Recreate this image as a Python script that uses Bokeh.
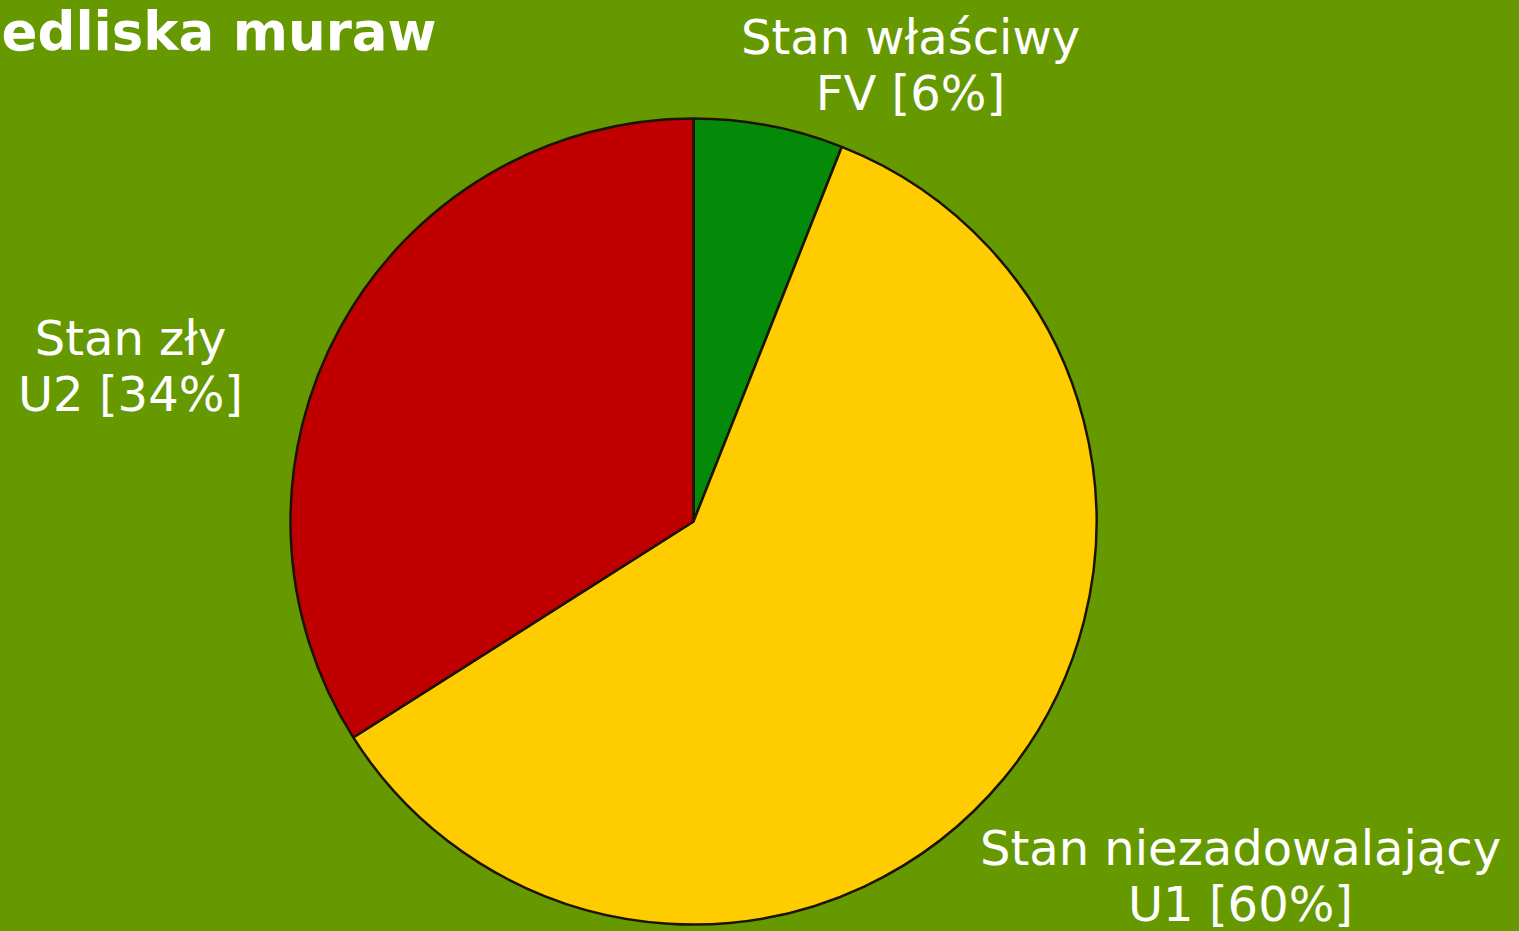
import math
from bokeh.plotting import figure
from bokeh.models import Range1d, ColumnDataSource
from bokeh.core.properties import value
from bokeh.embed import file_html
from bokeh.resources import INLINE

# ---- data ----
categories = ["Stan właściwy", "Stan niezadowalający", "Stan zły"]
codes = ["FV", "U1", "U2"]
shares = [6, 60, 34]
colors = ["#048A08", "#FFCC00", "#C00000"]
title_text = "edliska muraw"

BG = "#669900"
W, H = 1519, 931

p = figure(width=W, height=H, output_backend="svg", toolbar_location=None,
           x_range=Range1d(0, W), y_range=Range1d(0, H),
           min_border=0, background_fill_color=BG, border_fill_color=BG,
           outline_line_color=None)
p.axis.visible = False
p.grid.visible = False

cx, cy, r = 693, H - 521, 403

total = sum(shares)
starts, ends = [], []
a = math.pi / 2
for s in shares:
    starts.append(a)
    a -= 2 * math.pi * s / total
    ends.append(a)

src = ColumnDataSource(dict(start=starts, end=ends, color=colors))
p.wedge(x=cx, y=cy, radius=r, start_angle="start", end_angle="end",
        direction="clock", fill_color="color", line_color="#1a1400",
        line_width=2.5, source=src)

# label layout (screen baselines)
label_pos = {"FV": (910, 36), "U1": (1240, 847), "U2": (130, 337)}
lx, ly, lt = [], [], []
for c, cat, s in zip(codes, categories, shares):
    x, y = label_pos[c]
    lx += [x, x]
    ly += [H - y, H - (y + 56)]
    lt += [cat, f"{c} [{s}%]"]

p.text(x=lx, y=ly, text=lt, text_align="center", text_baseline="alphabetic",
       text_color="white", text_font=value("DejaVu Sans"),
       text_font_size="48px")

p.text(x=[1], y=[H - 31], text=[title_text], text_align="left",
       text_baseline="alphabetic", text_color="white",
       text_font=value("DejaVu Sans"), text_font_style="bold",
       text_font_size="53px")

html = file_html(p, INLINE)
html = html.replace("<head>", "<head><style>html,body{background:%s;}</style>" % BG, 1)
open("out.html", "w").write(html)
